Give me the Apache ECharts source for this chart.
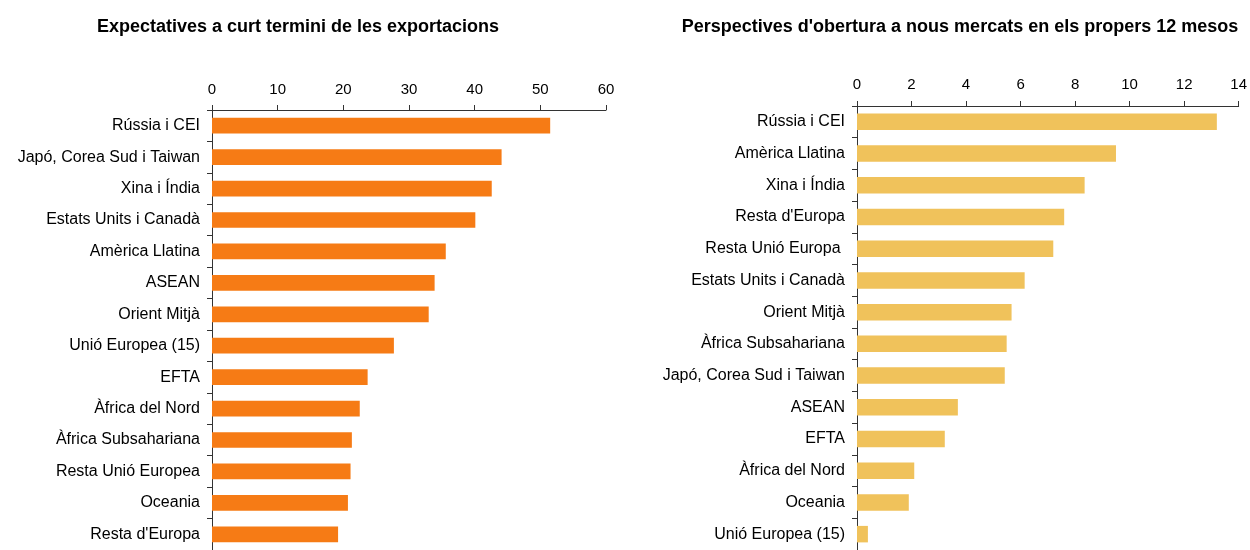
<!DOCTYPE html>
<html>
<head>
<meta charset="utf-8">
<script src="https://cdn.jsdelivr.net/npm/echarts@6/dist/echarts.min.js"></script>
<style>
  html, body { margin: 0; padding: 0; background: #fff; }
  #chart { width: 1250px; height: 550px; }
</style>
</head>
<body>
<div id="chart"></div>
<script>
// expectatives a curt termini
const leftCategories = ['Rússia i CEI', 'Japó, Corea Sud i Taiwan', 'Xina i Índia', 'Estats Units i Canadà',
  'Amèrica Llatina', 'ASEAN', 'Orient Mitjà', 'Unió Europea (15)', 'EFTA', 'Àfrica del Nord',
  'Àfrica Subsahariana', 'Resta Unió Europea', 'Oceania', "Resta d'Europa"];
const leftValues = [51.5, 44.1, 42.6, 40.1, 35.6, 33.9, 33.0, 27.7, 23.7, 22.5, 21.3, 21.1, 20.7, 19.2];

// perspectives d'obertura a nous mercats
const rightCategories = ['Rússia i CEI', 'Amèrica Llatina', 'Xina i Índia', "Resta d'Europa", 'Resta Unió Europa ',
  'Estats Units i Canadà', 'Orient Mitjà', 'Àfrica Subsahariana', 'Japó, Corea Sud i Taiwan', 'ASEAN',
  'EFTA', 'Àfrica del Nord', 'Oceania', 'Unió Europea (15)'];
const rightValues = [13.2, 9.5, 8.35, 7.6, 7.2, 6.15, 5.67, 5.49, 5.42, 3.7, 3.22, 2.1, 1.9, 0.4];

const leftTicks = { min: 0, max: 60, interval: 10 };
const rightTicks = { min: 0, max: 14, interval: 2 };

const font = 'Arial, "Liberation Sans", sans-serif';
const axisColor = '#333';

const valueAxis = (grid, t, margin) => ({
  type: 'value',
  gridIndex: grid,
  position: 'top',
  min: t.min, max: t.max, interval: t.interval,
  axisLine: { show: true, lineStyle: { color: axisColor, width: 1 } },
  axisTick: { show: true, length: 5, lineStyle: { color: axisColor } },
  splitLine: { show: false },
  axisLabel: { color: '#000', fontSize: 15, fontFamily: font, margin: margin }
});

const catAxis = (grid, cats) => ({
  type: 'category',
  gridIndex: grid,
  data: cats,
  inverse: true,
  axisLine: { show: true, lineStyle: { color: axisColor, width: 1 } },
  axisTick: { show: true, length: 5, lineStyle: { color: axisColor } },
  axisLabel: { color: '#000', fontSize: 16, fontFamily: font, margin: 12 }
});

const chart = echarts.init(document.getElementById('chart'), null, { renderer: 'canvas' });

const titleStyle = { fontSize: 18, fontWeight: 'bold', color: '#000', fontFamily: font };

chart.setOption({
  animation: false,
  backgroundColor: '#fff',
  title: [
    { text: 'Expectatives a curt termini de les exportacions', left: 293, top: 13, textAlign: 'center',
      textStyle: titleStyle },
    { text: "Perspectives d'obertura a nous mercats en els propers 12 mesos", left: 955, top: 13, textAlign: 'center',
      textStyle: titleStyle }
  ],
  grid: [
    { left: 212, top: 110, width: 394, height: 441, containLabel: false },
    { left: 857, top: 106, width: 383, height: 450, containLabel: false }
  ],
  xAxis: [valueAxis(0, leftTicks, 13), valueAxis(1, rightTicks, 14)],
  yAxis: [catAxis(0, leftCategories), catAxis(1, rightCategories)],
  series: [
    {
      type: 'bar', xAxisIndex: 0, yAxisIndex: 0,
      data: leftValues, barWidth: '50%',
      itemStyle: { color: '#F67B15' }
    },
    {
      type: 'bar', xAxisIndex: 1, yAxisIndex: 1,
      data: rightValues, barWidth: '52%',
      itemStyle: { color: '#F0C25B' }
    }
  ]
});
</script>
</body>
</html>
